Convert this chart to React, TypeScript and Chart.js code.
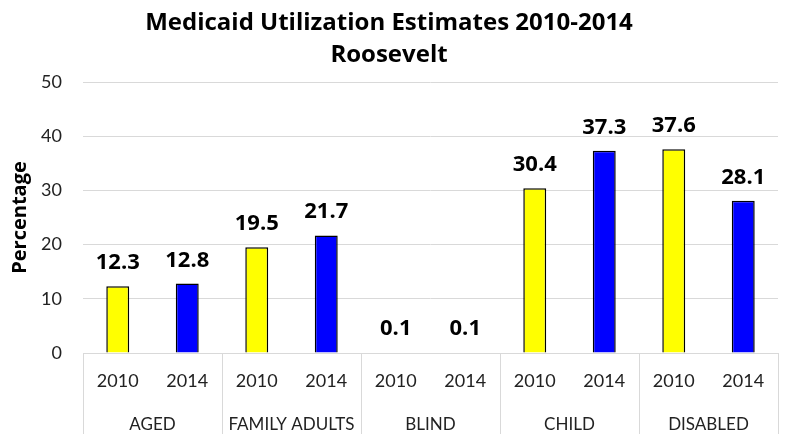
import React, { useEffect, useRef } from 'react';
import { Chart, registerables } from 'chart.js';

Chart.register(...registerables);

const titleLines = ['Medicaid Utilization Estimates 2010-2014', 'Roosevelt'];
const yAxisTitle = 'Percentage';
const groups = ['AGED', 'FAMILY ADULTS', 'BLIND', 'CHILD', 'DISABLED'];
const years = ['2010', '2014'];
const values2010 = [12.3, 19.5, 0.1, 30.4, 37.6];
const values2014 = [12.8, 21.7, 0.1, 37.3, 28.1];
const yMin = 0;
const yMax = 50;
const yStep = 10;
const color2010 = '#FFFF00';
const color2014 = '#0000FF';

const FONT = 'Lato, "Open Sans", sans-serif';
const BOLD_FONT = '"Open Sans", Lato, sans-serif';

export default function App() {
  const ref = useRef<HTMLCanvasElement | null>(null);

  useEffect(() => {
    document.body.style.margin = '0';
    const canvas = ref.current;
    if (!canvas) return;

    const labels: string[] = [];
    const data: number[] = [];
    const colors: string[] = [];
    groups.forEach((_, g) => {
      labels.push(years[0]);
      data.push(values2010[g]);
      colors.push(color2010);
      labels.push(years[1]);
      data.push(values2014[g]);
      colors.push(color2014);
    });

    const overlay = {
      id: 'overlay',
      afterDatasetsDraw(chart: any) {
        const ctx = chart.ctx as CanvasRenderingContext2D;
        const meta = chart.getDatasetMeta(0);
        const ds = chart.data.datasets[0].data as number[];
        ctx.save();
        ctx.font = `bold 22px ${BOLD_FONT}`;
        ctx.fillStyle = '#000';
        ctx.textAlign = 'center';
        ctx.textBaseline = 'alphabetic';
        meta.data.forEach((bar: any, i: number) => {
          ctx.fillText(ds[i].toFixed(1), bar.x, bar.y - 17);
        });
        const xs = chart.scales.x;
        const { left, right, bottom } = chart.chartArea;
        ctx.strokeStyle = '#d9d9d9';
        ctx.lineWidth = 1;
        for (let g = 0; g <= groups.length; g++) {
          let px: number;
          if (g === 0) px = left;
          else if (g === groups.length) px = right;
          else px = (xs.getPixelForValue(2 * g - 1) + xs.getPixelForValue(2 * g)) / 2;
          px = Math.round(px) + 0.5;
          ctx.beginPath();
          ctx.moveTo(px, bottom);
          ctx.lineTo(px, chart.height);
          ctx.stroke();
        }
        ctx.restore();
      },
    };

    const chart = new Chart(canvas, {
      type: 'bar',
      data: {
        labels,
        datasets: [
          {
            data,
            backgroundColor: colors,
            borderColor: '#000000',
            borderWidth: 1.5,
            barPercentage: 0.33,
            categoryPercentage: 1,
          },
        ],
      },
      options: {
        responsive: true,
        maintainAspectRatio: false,
        animation: false,
        layout: { padding: { left: 0, right: 7, top: 0, bottom: 0 } },
        plugins: {
          legend: { display: false },
          tooltip: { enabled: false },
          title: {
            display: true,
            text: titleLines,
            color: '#000',
            font: { family: BOLD_FONT, size: 24, weight: 'bold', lineHeight: 32 / 24 },
            padding: { top: 7, bottom: 11 },
          },
        },
        scales: {
          x: {
            type: 'category',
            position: 'bottom',
            grid: { display: false, drawTicks: false },
            border: { display: true, color: '#d9d9d9', width: 1 },
            ticks: {
              color: '#222',
              font: { family: FONT, size: 18 },
              padding: 17,
              maxRotation: 0,
              autoSkip: false,
            },
            afterFit: (s: any) => {
              s.height = 49;
            },
          },
          x2: {
            type: 'category',
            position: 'bottom',
            labels: groups,
            offset: true,
            grid: { display: false, drawTicks: false },
            border: { display: false },
            ticks: {
              color: '#222',
              font: { family: FONT, size: 17 },
              padding: 12,
              maxRotation: 0,
              autoSkip: false,
            },
            afterFit: (s: any) => {
              s.height = 32;
            },
          },
          y: {
            min: yMin,
            max: yMax,
            grid: { color: '#d9d9d9', lineWidth: 1, drawTicks: false },
            border: { display: false },
            ticks: {
              stepSize: yStep,
              color: '#222',
              font: { family: FONT, size: 18 },
              padding: 21,
            },
            title: {
              display: true,
              text: yAxisTitle,
              color: '#000',
              font: { family: BOLD_FONT, size: 20, weight: 'bold' },
              padding: { top: 8, bottom: 0 },
            },
            afterFit: (s: any) => {
              s.width = 83;
            },
          },
        },
      },
      plugins: [overlay],
    });

    return () => chart.destroy();
  }, []);

  return (
    <div style={{ width: 785, height: 434, position: 'relative' }}>
      <canvas ref={ref} />
    </div>
  );
}
